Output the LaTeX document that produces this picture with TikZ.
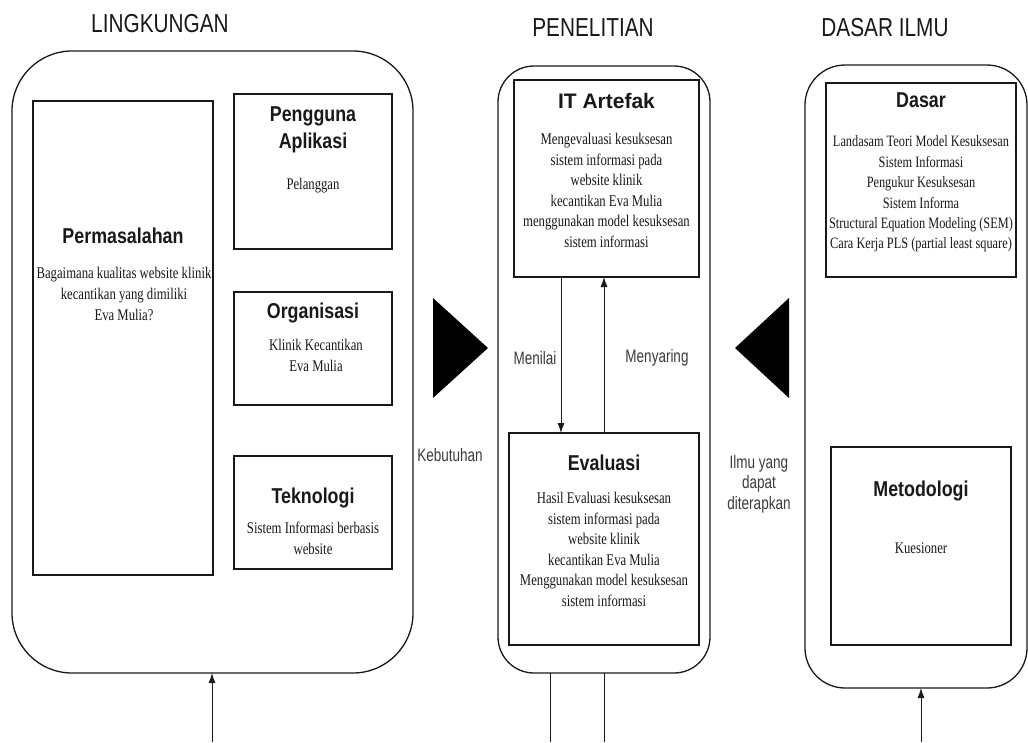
\documentclass[tikz,border=0pt]{standalone}
\usepackage{fontspec}
\newfontfamily\ttlf{Liberation Sans}[FakeStretch=0.8]
\newfontfamily\lblf{Liberation Sans}[FakeStretch=0.75]
\newfontfamily\hdf{Liberation Sans}[FakeStretch=0.83]
\newfontfamily\hdwf{Liberation Sans}
\newfontfamily\bdf{Liberation Serif}[FakeStretch=0.78]
\usetikzlibrary{arrows.meta}
\definecolor{ink}{RGB}{25,25,25}
\tikzset{
  cont/.style={draw=ink, line width=1.3pt, inner sep=0pt, outer sep=0pt, rounded corners=#1},
  box/.style={draw=ink, line width=1.1pt, inner sep=0pt, outer sep=0pt},
  ttl/.style={inner sep=0pt, font=\ttlf\fontsize{26}{30}\selectfont, text=ink},
  hd/.style={inner sep=0pt, align=center, font=\hdf\bfseries\fontsize{21.5}{27}\selectfont, text=ink},
  bd/.style={inner sep=0pt, align=center, font=\bdf\fontsize{16.3}{20.6}\selectfont, text=ink},
  lbl/.style={inner sep=0pt, align=center, font=\lblf\fontsize{18}{20.5}\selectfont, text=ink!85},
  conn/.style={draw=ink, line width=0.9pt},
  arr/.style={conn, -{Latex[length=10pt,width=7pt]}}
}
\begin{document}
\begin{tikzpicture}[x=1pt,y=-1pt]
\useasboundingbox[fill=white] (0,0) rectangle (1028,742);

% titles
\node[ttl] (t1) at (160,24) {LINGKUNGAN};
\node[ttl] (t2) at (593,28) {PENELITIAN};
\node[ttl] (t3) at (885,28) {DASAR ILMU};

% containers
\node[cont=60pt, minimum width=401pt, minimum height=622pt] (lenv) at (212.5,362) {};
\node[cont=36pt, minimum width=212pt, minimum height=607pt] (mid) at (604,369.5) {};
\node[cont=40pt, minimum width=222pt, minimum height=623pt] (rgt) at (916,376.5) {};

% left boxes
\node[box, minimum width=180pt, minimum height=474pt] (perm) at (123,338) {};
\node[hd] (permh) at (123,236) {Permasalahan};
\node[bd] (permb) at (124,294) {Bagaimana kualitas website klinik\\kecantikan yang dimiliki\\Eva Mulia?};

\node[box, minimum width=158pt, minimum height=155pt] (peng) at (313,171.5) {};
\node[hd] (pengh) at (313,129.5) {Pengguna\\Aplikasi};
\node[bd] (pengb) at (313,186) {Pelanggan};

\node[box, minimum width=158pt, minimum height=113pt] (org) at (313,348.5) {};
\node[hd] (orgh) at (313,313) {Organisasi};
\node[bd] (orgb) at (316,355.5) {Klinik Kecantikan\\Eva Mulia};

\node[box, minimum width=158pt, minimum height=113pt] (tek) at (313,512.5) {};
\node[hd] (tekh) at (313,498) {Teknologi};
\node[bd] (tekb) at (313,538.5) {Sistem Informasi berbasis\\website};

% middle boxes
\node[box, minimum width=185pt, minimum height=197pt] (ita) at (606.5,178.5) {};
\node[hd, font=\hdwf\bfseries\fontsize{21}{27}\selectfont] (itah) at (606.5,101) {IT Artefak};
\node[bd] (itab) at (606.5,190.5) {Mengevaluasi kesuksesan\\sistem informasi pada\\website klinik\\kecantikan Eva Mulia\\menggunakan model kesuksesan\\sistem informasi};

\node[box, minimum width=190pt, minimum height=212pt] (eva) at (604,539) {};
\node[hd] (evah) at (604,463) {Evaluasi};
\node[bd] (evab) at (604,549.5) {Hasil Evaluasi kesuksesan\\sistem informasi pada\\website klinik\\kecantikan Eva Mulia\\Menggunakan model kesuksesan\\sistem informasi};

% right boxes
\node[box, minimum width=190pt, minimum height=194pt] (dasar) at (921,180) {};
\node[hd] (dasarh) at (921,100) {Dasar};
\node[bd, font=\bdf\fontsize{15.8}{20.4}\selectfont] (dasarb) at (921,194) {Landasam Teori Model Kesuksesan\\Sistem Informasi\\Pengukur Kesuksesan\\Sistem Informa\\Structural Equation Modeling (SEM)\\Cara Kerja PLS (partial least square)};

\node[box, minimum width=180pt, minimum height=198pt] (meto) at (921,546) {};
\node[hd] (metoh) at (921,491) {Metodologi};
\node[bd] (metob) at (921,548) {Kuesioner};

% inner connectors
\coordinate (xa) at (561,0);
\coordinate (xb) at (604,0);
\draw[arr] (ita.south -| xa) -- (eva.north -| xa);
\draw[arr] (eva.north -| xb) -- (ita.south -| xb);
\node[lbl] (menilai) at (535,358) {Menilai};
\node[lbl] (menyaring) at (657,358) {Menyaring};

% big triangles
\fill[black] (433,298) -- (488,348) -- (433,398) -- cycle;
\fill[black] (789,298) -- (735,348) -- (789,398) -- cycle;
\node[lbl] (kebutuhan) at (450,455) {Kebutuhan};
\node[lbl] (ilmu) at (759,484) {Ilmu yang\\dapat\\diterapkan};

% bottom connectors
\coordinate (bl) at (212,742);
\coordinate (br) at (921,742);
\coordinate (bm1) at (550,742);
\coordinate (bm2) at (604,742);
\draw[arr] (bl) -- (bl |- lenv.south);
\draw[arr] (br) -- (br |- rgt.south);
\draw[conn] (mid.south -| bm1) -- (bm1);
\draw[conn] (mid.south -| bm2) -- (bm2);
\end{tikzpicture}
\end{document}
